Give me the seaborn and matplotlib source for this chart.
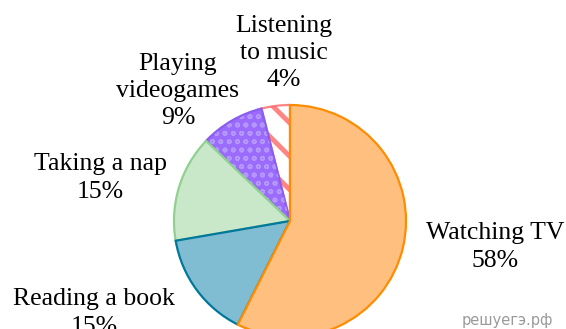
import seaborn as sns
import matplotlib.pyplot as plt
from matplotlib.patches import Wedge

# Data
activities = ['Watching TV', 'Reading a book', 'Taking a nap',
              'Playing videogames', 'Listening to music']
shares = [58, 15, 15, 9, 4]
label_texts = ['Watching TV\n58%', 'Reading a book\n15%', 'Taking a nap\n15%',
               'Playing\nvideogames\n9%', 'Listening\nto music\n4%']

fills = ['#ffc07f', '#80bdd3', '#c9e8c9', '#9b6cfb', '#ffffff']
edges = ['#ff8c00', '#00789a', '#90d090', '#8a5cf0', '#ff6666']

# label centres in pixel coordinates (x, y from top)
label_pos = [(495, 247), (94, 313), (100, 178), (178, 91), (284, 53)]

sns.set_style('white')
plt.rcParams['font.family'] = ['Liberation Serif', 'DejaVu Serif']
plt.rcParams['hatch.linewidth'] = 3.5

W, H = 566, 329
fig = plt.figure(figsize=(W / 100, H / 100), dpi=100)
ax = fig.add_axes([0, 0, 1, 1])

cx, cy, r = 290, H - 221, 116
wedges, _ = ax.pie(shares, startangle=90, counterclock=False,
                   center=(cx, cy), radius=r, colors=fills,
                   wedgeprops=dict(linewidth=1.6), frame=True)
ax.set_xlim(0, W)
ax.set_ylim(0, H)
ax.set_aspect('equal')
ax.axis('off')

# earlier slices keep their outline on top of the next one
for i, (w, ec) in enumerate(zip(wedges, edges)):
    w.set_edgecolor(ec)
    w.set_zorder(10 - i)

# striped music slice
wedges[4].set_hatch('\\')
wedges[4].set_alpha(0.8)

# blotchy texture on videogames slice
plt.rcParams['hatch.linewidth'] = 1.2
vg = wedges[3]
tex = Wedge((cx, cy), r - 1, vg.theta1 + 0.5, vg.theta2 - 0.5, facecolor='none',
            edgecolor='#b498ff', linewidth=0, hatch='oo', zorder=7.1)
if hasattr(tex, 'set_hatch_linewidth'):
    tex.set_hatch_linewidth(1.2)
ax.add_patch(tex)

for txt, (px, py) in zip(label_texts, label_pos):
    ax.text(px, H - py, txt, ha='center', va='center', fontsize=18.5,
            linespacing=1.3, color='black', zorder=20)

ax.text(507, H - 321, 'решуегэ.рф', ha='center', va='center', fontsize=10.5,
        color='#9a9a9a', family='DejaVu Sans', zorder=20)

fig.savefig('out.png', dpi=100)
